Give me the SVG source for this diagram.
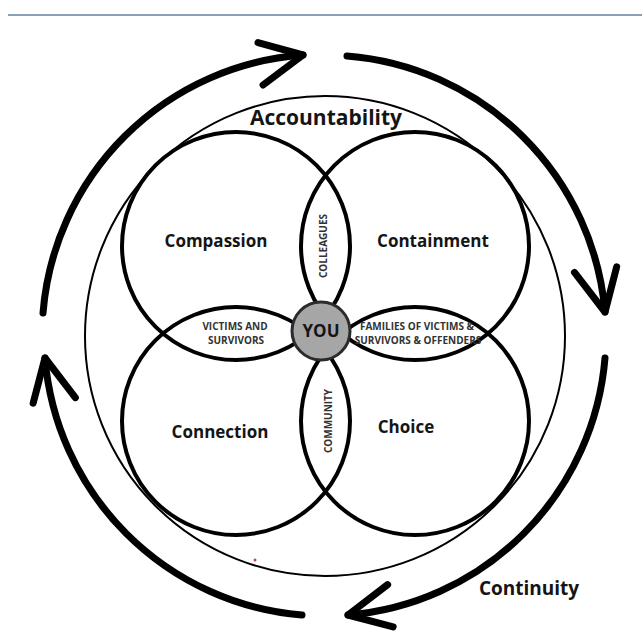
<svg xmlns="http://www.w3.org/2000/svg" width="642" height="633" viewBox="0 0 642 633">
  <style>
    .ring { fill: none; stroke: #000; stroke-width: 4; }
    .thin { fill: none; stroke: #000; stroke-width: 2; }
    .arc { fill: none; stroke: #000; stroke-width: 7; stroke-linecap: round; }
    .big { font-family: "Open Sans", "Liberation Sans", sans-serif; font-weight: 700; fill: #151515; text-anchor: middle; }
    .small { font-family: "Open Sans", "Liberation Sans", sans-serif; font-weight: 700; fill: #333; text-anchor: middle; font-size: 10px; }
  </style>
  <defs>
    <marker id="ah" markerUnits="userSpaceOnUse" viewBox="-60 -40 70 80" markerWidth="70" markerHeight="80" refX="0" refY="0" orient="auto" overflow="visible">
      <path d="M -44,-15.5 L 0,0 L -42,27" fill="none" stroke="#000" stroke-width="7" stroke-linecap="round" stroke-linejoin="round"/>
    </marker>
  </defs>
  <rect width="642" height="633" fill="#fff"/>
  <line x1="8" y1="15" x2="642" y2="15" stroke="#8aa0b4" stroke-width="2"/>

  <g id="accountability">
    <circle class="thin" cx="325" cy="336" r="240"/>
    <text class="big" x="326" y="125" font-size="21">Accountability</text>
  </g>
  <g id="compassion">
    <circle class="ring" cx="236" cy="246" r="114"/>
    <text class="big" x="216" y="247" font-size="17">Compassion</text>
  </g>
  <g id="containment">
    <circle class="ring" cx="415" cy="246" r="114"/>
    <text class="big" x="433" y="247" font-size="17">Containment</text>
  </g>
  <g id="connection">
    <circle class="ring" cx="236" cy="421" r="114"/>
    <text class="big" x="220" y="438" font-size="17">Connection</text>
  </g>
  <g id="choice">
    <circle class="ring" cx="415" cy="421" r="114"/>
    <text class="big" x="406" y="433" font-size="17">Choice</text>
  </g>
  <g id="colleagues">
    <text class="small" transform="translate(327,246) rotate(-90)">COLLEAGUES</text>
  </g>
  <g id="community">
    <text class="small" transform="translate(331.5,421) rotate(-90)">COMMUNITY</text>
  </g>
  <g id="victims">
    <text class="small" x="235" y="330">VICTIMS AND</text>
    <text class="small" x="236" y="344">SURVIVORS</text>
  </g>
  <g id="families">
    <text class="small" x="417" y="330">FAMILIES OF VICTIMS &amp;</text>
    <text class="small" x="418" y="344">SURVIVORS &amp; OFFENDERS</text>
  </g>
  <g id="you">
    <circle cx="321" cy="331" r="29" fill="#a6a6a6" stroke="#2b2b2b" stroke-width="3"/>
    <text class="big" x="321" y="337" font-size="17">YOU</text>
  </g>
  <g id="continuity">
    <text class="big" x="529" y="595" font-size="19">Continuity</text>
  </g>

  <g id="connectors">
    <path class="arc" d="M 43,313 A 281,281 0 0 1 303,55" marker-end="url(#ah)"/>
    <path class="arc" d="M 347,56 A 281,281 0 0 1 605,312" marker-end="url(#ah)"/>
    <path class="arc" d="M 605,358 A 281,281 0 0 1 348,615" marker-end="url(#ah)"/>
    <path class="arc" d="M 302,615 A 281,281 0 0 1 45,358" marker-end="url(#ah)"/>
  </g>
  <circle cx="255" cy="560" r="1.5" fill="#d04050"/>
</svg>
